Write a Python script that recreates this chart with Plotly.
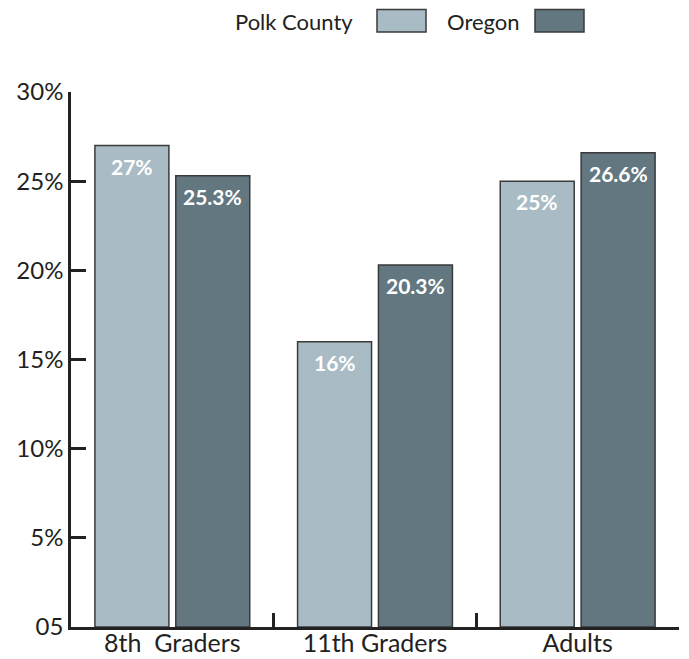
import plotly.graph_objects as go

categories = ["8th  Graders", "11th Graders", "Adults"]
series_names = ["Polk County", "Oregon"]
polk_values = [27, 16, 25]
oregon_values = [25.3, 20.3, 26.6]
y_tick_vals = [0, 5, 10, 15, 20, 25, 30]
y_tick_text = ["05", "5%", "10%", "15%", "20%", "25%", "30%"]

colors = ["#a9bcc5", "#637780"]
outline = "#3a3a3a"
text_color = "#231f20"
font_family = "Lato, 'Open Sans', sans-serif"

# page has an 8px body margin; figure sized to fit the 689x659 window
BODY = 8
W, H = 689 - BODY, 659 - BODY
# plot area in page pixels
P_L, P_R, P_T, P_B = 71, 679, 92, 627
ml, mr, mt, mb = P_L - BODY, W - (P_R - BODY), P_T - BODY, H - (P_B - BODY)
pw, ph = P_R - P_L, P_B - P_T

fig = go.Figure()
bar_width = 0.365
offsets = [-0.382, 0.017]
series = [polk_values, oregon_values]
for name, vals, col, off in zip(series_names, series, colors, offsets):
    fig.add_trace(go.Bar(
        x=categories, y=vals, name=name,
        marker=dict(color=col, line=dict(color=outline, width=1.5)),
        width=bar_width, offset=off, showlegend=False,
    ))
    for c, v in zip(categories, vals):
        label = f"{v:g}%"
        fig.add_annotation(
            x=c, y=v, xref="x", yref="y", text=f"<b>{label}</b>",
            showarrow=False, yanchor="top", yshift=-6,
            xshift=(off + bar_width / 2) * pw / 3,
            font=dict(color="white", size=21, family=font_family),
        )

def px_x(p):
    return (p - P_L) / pw
def px_y(p):
    return (P_B - p) / ph

# custom legend (text followed by swatch)
legend_text_right = [355, 522]
swatch_left = [377, 535]
for name, col, tr, sl in zip(series_names, colors, legend_text_right, swatch_left):
    fig.add_annotation(
        x=px_x(tr), y=px_y(22), xref="paper", yref="paper", text=name,
        showarrow=False, xanchor="right", yanchor="middle",
        font=dict(color=text_color, size=22, family=font_family),
    )
    fig.add_shape(
        type="rect", xref="paper", yref="paper",
        x0=px_x(sl), x1=px_x(sl + 49), y0=px_y(32), y1=px_y(9.5),
        fillcolor=col, line=dict(color=outline, width=1.5),
    )

fig.update_layout(
    width=W, height=H,
    margin=dict(l=ml, r=mr, t=mt, b=mb, autoexpand=False),
    plot_bgcolor="white", paper_bgcolor="white",
    font=dict(family=font_family, color=text_color),
    xaxis=dict(
        type="category", range=[-0.5, 2.5], automargin=False,
        showline=True, linecolor="#222", linewidth=2.5,
        ticks="inside", tickson="boundaries", ticklen=14, tickwidth=2.5,
        tickcolor="#222", showgrid=False, zeroline=False,
        ticklabelstandoff=-8,
        tickfont=dict(size=25, family=font_family, color=text_color),
    ),
    yaxis=dict(
        range=[0, 30], tickvals=y_tick_vals, ticktext=y_tick_text,
        automargin=False,
        showline=True, linecolor="#222", linewidth=2.5,
        ticks="inside", ticklen=15, tickwidth=2.5, tickcolor="#222",
        showgrid=False, zeroline=False,
        tickfont=dict(size=24, family=font_family, color=text_color),
    ),
)

fig.write_html("out.html")
